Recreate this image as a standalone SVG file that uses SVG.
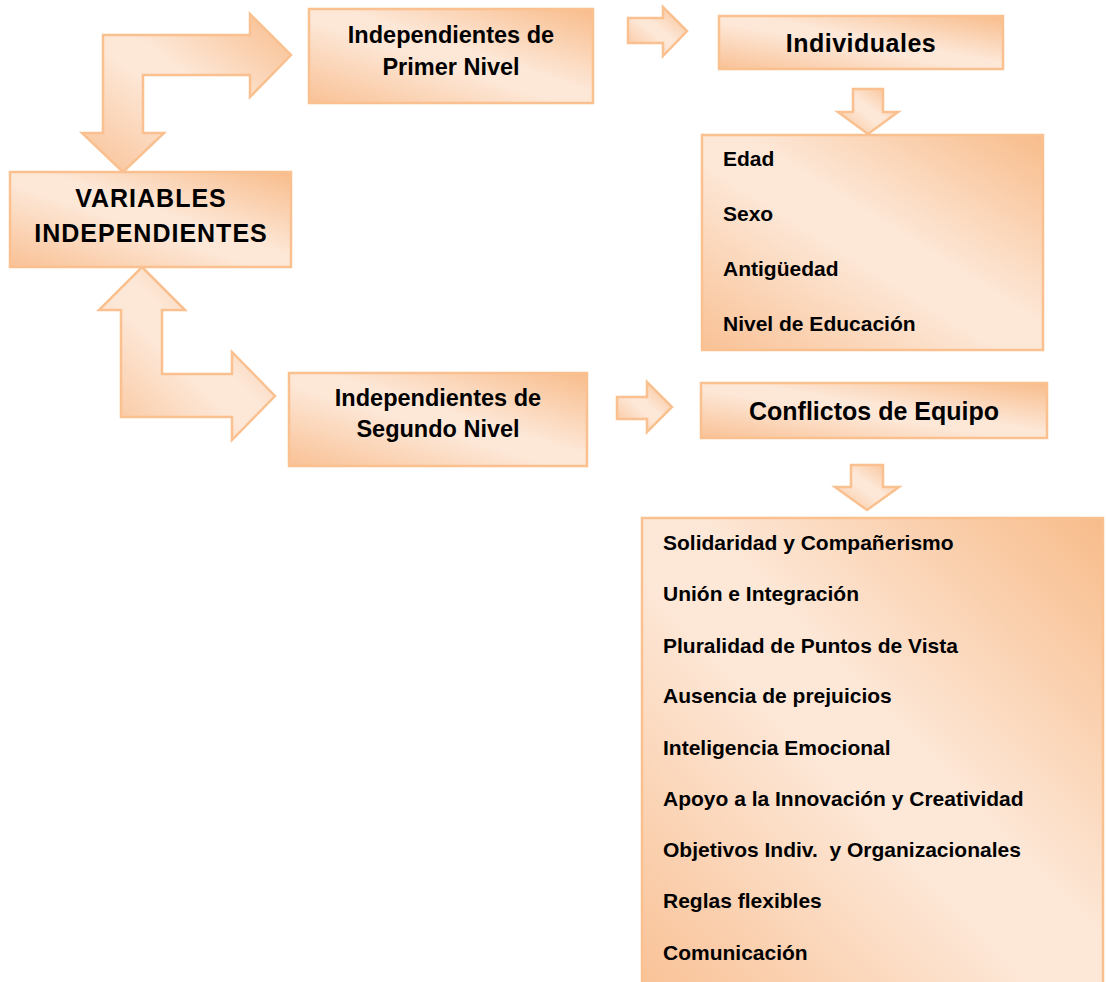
<svg xmlns="http://www.w3.org/2000/svg" width="1106" height="982" viewBox="0 0 1106 982">
  <defs>
    <!-- peach diagonal shading: darker at top-right and bottom-left corners -->
    <linearGradient id="peach" x1="1" y1="0" x2="0" y2="1">
      <stop offset="0" stop-color="#F8BC8B"/>
      <stop offset="0.45" stop-color="#FDE8D8"/>
      <stop offset="0.55" stop-color="#FDE8D8"/>
      <stop offset="1" stop-color="#F9C195"/>
    </linearGradient>
    <style>
      .shape { fill: url(#peach); stroke: #FAC08F; stroke-width: 2.5; }
      .t { font-family: "Liberation Sans", Arial, sans-serif; font-weight: bold; fill: #000; }
      .hd { font-size: 23.5px; text-anchor: middle; }
      .big { font-size: 25px; text-anchor: middle; }
      .item { font-size: 21px; }
    </style>
  </defs>
  <rect width="1106" height="982" fill="#fff"/>

  <!-- connectors -->
  <g id="connectors">
    <!-- bent arrow: variables up to first level -->
    <path class="shape" d="M103,35 L250,35 L250,14 L291,55 L250,97 L250,75 L143,75 L143,133 L164,133 L123,172 L82,133 L103,133 Z"/>
    <!-- bent arrow: variables down to second level -->
    <path class="shape" d="M142,267 L185,310 L162,310 L162,374 L232,374 L232,352 L275,396 L232,440 L232,417 L121,417 L121,310 L99,310 Z"/>
    <!-- first level to Individuales -->
    <path class="shape" d="M628,18 L663,18 L663,7 L687,31 L663,56 L663,43 L628,43 Z"/>
    <!-- Individuales to its list -->
    <path class="shape" d="M853,89 L883,89 L883,112 L898,112 L868,134 L838,112 L853,112 Z"/>
    <!-- second level to Conflictos -->
    <path class="shape" d="M617,397 L647,397 L647,382 L672,407 L647,432 L647,419 L617,419 Z"/>
    <!-- Conflictos to its list -->
    <path class="shape" d="M851,465 L883,465 L883,487 L899,487 L867,510 L835,487 L851,487 Z"/>
  </g>

  <g id="variables">
    <rect class="shape" x="10" y="172" width="281" height="95"/>
    <text class="t big" x="151" y="207" letter-spacing="1">VARIABLES</text>
    <text class="t big" x="151" y="242" letter-spacing="1">INDEPENDIENTES</text>
  </g>

  <g id="primer-nivel">
    <rect class="shape" x="309" y="9" width="284" height="94"/>
    <text class="t hd" x="451" y="43">Independientes de</text>
    <text class="t hd" x="451" y="75">Primer Nivel</text>
  </g>

  <g id="segundo-nivel">
    <rect class="shape" x="289" y="373" width="298" height="93"/>
    <text class="t hd" x="438" y="406">Independientes de</text>
    <text class="t hd" x="438" y="437">Segundo Nivel</text>
  </g>

  <g id="individuales">
    <rect class="shape" x="719" y="16" width="284" height="53"/>
    <text class="t big" x="861" y="52" letter-spacing="0.5">Individuales</text>
  </g>

  <g id="lista-individuales">
    <rect class="shape" x="702" y="135" width="341" height="215"/>
    <text class="t item" x="723" y="166">Edad</text>
    <text class="t item" x="723" y="221">Sexo</text>
    <text class="t item" x="723" y="276">Antigüedad</text>
    <text class="t item" x="723" y="331">Nivel de Educación</text>
  </g>

  <g id="conflictos">
    <rect class="shape" x="701" y="383" width="346" height="55"/>
    <text class="t big" x="874" y="420" font-size="26">Conflictos de Equipo</text>
  </g>

  <g id="lista-conflictos">
    <rect class="shape" x="642" y="518" width="461" height="480"/>
    <text class="t item" x="663" y="550">Solidaridad y Compañerismo</text>
    <text class="t item" x="663" y="601">Unión e Integración</text>
    <text class="t item" x="663" y="653">Pluralidad de Puntos de Vista</text>
    <text class="t item" x="663" y="703">Ausencia de prejuicios</text>
    <text class="t item" x="663" y="755">Inteligencia Emocional</text>
    <text class="t item" x="663" y="806">Apoyo a la Innovación y Creatividad</text>
    <text class="t item" x="663" y="857" xml:space="preserve" style="white-space:pre">Objetivos Indiv.  y Organizacionales</text>
    <text class="t item" x="663" y="908">Reglas flexibles</text>
    <text class="t item" x="663" y="960">Comunicación</text>
  </g>
</svg>
